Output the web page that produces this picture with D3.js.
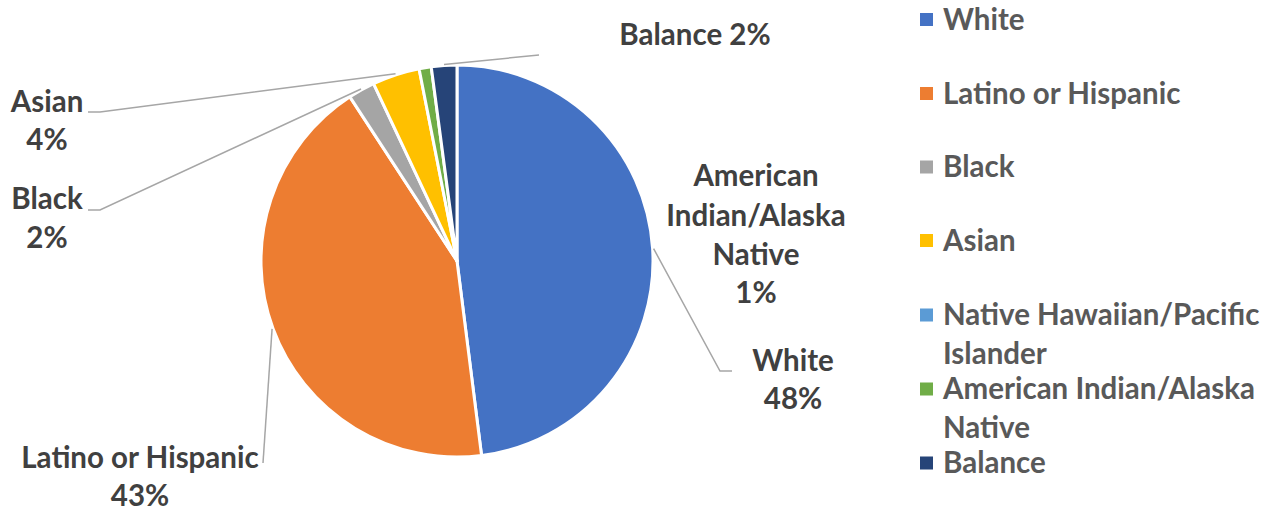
<!DOCTYPE html>
<html><head><meta charset="utf-8">
<script src="https://cdn.jsdelivr.net/npm/d3@7"></script>
<style>body{margin:0;background:#fff}svg{display:block}text{font-family:Lato,"Open Sans",sans-serif;font-weight:700}</style>
</head><body><div id="chart"></div>
<script>
const categories = ["White","Latino or Hispanic","Black","Asian","Native Hawaiian/Pacific Islander","American Indian/Alaska Native","Balance"];
const values = [48.0, 42.8, 2.2, 3.9, 0, 1.0, 2.1];
const percentLabels = ["48%","43%","2%","4%","0%","1%","2%"];
const colors = ["#4472c4","#ed7d31","#a5a5a5","#ffc000","#5b9bd5","#70ad47","#264478"];
const legendLines = [["White"],["Latino or Hispanic"],["Black"],["Asian"],["Native Hawaiian/Pacific","Islander"],["American Indian/Alaska","Native"],["Balance"]];

const W = 1273, H = 514;
const cx = 457, cy = 261, R = 196;
const FS = 29.5;

const svg = d3.select("#chart").append("svg").attr("width", W).attr("height", H);
const data = categories.map((c, i) => ({name: c, value: values[i], pct: percentLabels[i], color: colors[i]}));
const pie = d3.pie().value(d => d.value).sort(null).startAngle(0).endAngle(2 * Math.PI);
const arcs = pie(data);
const arc = d3.arc().innerRadius(0).outerRadius(R);
const g = svg.append("g").attr("transform", `translate(${cx},${cy})`);
g.selectAll("path").data(arcs.filter(a => a.data.value > 0)).join("path")
  .attr("d", arc).attr("fill", d => d.data.color)
  .attr("stroke", "#fff").attr("stroke-width", 3).attr("stroke-linejoin", "round");

// label layout (per category index): centered x, baselines of lines, leader path via elbows
const layout = {
  0: {x: 793, y: [371, 409], lines: ["White"], elbow: [[720, 371], [732, 371]]},
  1: {x: 140, y: [468, 506], lines: ["Latino or Hispanic"], elbow: [[263, 463]]},
  2: {x: 47, y: [209, 248], lines: ["Black"], elbow: [[100, 210], [88, 210]]},
  3: {x: 47, y: [112, 150], lines: ["Asian"], elbow: [[100, 112], [88, 112]]},
  5: {x: 756, y: [186, 226, 265, 303], lines: ["American", "Indian/Alaska", "Native"], elbow: null},
  6: {x: 695, y: [45], lines: ["Balance 2%"], elbow: [[539, 55]], inline: true}
};

const labelG = svg.append("g");
arcs.forEach((a, i) => {
  const L = layout[i];
  if (!L) return;
  const mid = (a.startAngle + a.endAngle) / 2;
  const sx = cx + (R + 1) * Math.sin(mid), sy = cy - (R + 1) * Math.cos(mid);
  if (L.elbow) {
    const pts = [[sx, sy], ...L.elbow];
    labelG.append("path").attr("d", d3.line()(pts)).attr("fill", "none")
      .attr("stroke", "#a6a6a6").attr("stroke-width", 1.5);
  }
  const lines = L.inline ? L.lines : [...L.lines, a.data.pct];
  lines.forEach((t, k) => {
    labelG.append("text").attr("x", L.x).attr("y", L.y[k]).attr("text-anchor", "middle")
      .attr("font-size", FS).attr("fill", "#404040").text(t);
  });
});

// legend
const legendY = [29.5, 103.5, 177, 250.5, 325, 399, 473];
const lg = svg.append("g");
data.forEach((d, i) => {
  lg.append("rect").attr("x", 920).attr("y", legendY[i] - 16.5).attr("width", 13).attr("height", 13).attr("fill", d.color);
  legendLines[i].forEach((t, k) => {
    lg.append("text").attr("x", 943).attr("y", legendY[i] + k * 39).attr("font-size", FS)
      .attr("fill", "#595959").text(t);
  });
});
</script></body></html>
